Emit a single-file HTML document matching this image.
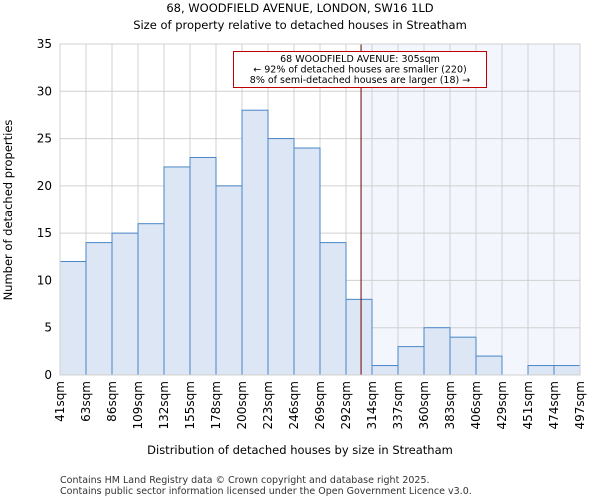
<!DOCTYPE html>
<html><head><meta charset="utf-8"><style>body{margin:0;background:#fff}svg{display:block;font-family:"DejaVu Sans","Liberation Sans",sans-serif}</style></head>
<body>
<svg id="chart" width="600" height="500" viewBox="0 0 600 500">
<text x="300" y="12" text-anchor="middle" font-size="11.5">68, WOODFIELD AVENUE, LONDON, SW16 1LD</text>
<text x="300" y="29" text-anchor="middle" font-size="11.5">Size of property relative to detached houses in Streatham</text>
<g id="plot"></g>
<text x="300" y="454" text-anchor="middle" font-size="11.5">Distribution of detached houses by size in Streatham</text>
<text transform="translate(12,210) rotate(-90)" text-anchor="middle" font-size="11.5">Number of detached properties</text>
<text x="60" y="483" font-size="9.5" fill="#333">Contains HM Land Registry data © Crown copyright and database right 2025.</text>
<text x="60" y="494" font-size="9.5" fill="#333">Contains public sector information licensed under the Open Government Licence v3.0.</text>
</svg>
<script>
const categories=["41sqm","63sqm","86sqm","109sqm","132sqm","155sqm","178sqm","200sqm","223sqm","246sqm","269sqm","292sqm","314sqm","337sqm","360sqm","383sqm","406sqm","429sqm","451sqm","474sqm","497sqm"];
const counts=[12,14,15,16,22,23,20,28,25,24,14,8,1,3,5,4,2,0,1,1];
const yTicks=[0,5,10,15,20,25,30,35];
const binStart=41, binWidth=22.8;
const markerValue=305;
const NS="http://www.w3.org/2000/svg";
const L=60,R=580,T=44,B=375,yMax=35;
const bw=(R-L)/counts.length;
const xs=v=>L+(v-binStart)/binWidth*bw;
const xi=i=>L+i*bw;
const ys=v=>B-v/yMax*(B-T);
const g=document.getElementById('plot');
function mk(t,a){const e=document.createElementNS(NS,t);for(const k in a)e.setAttribute(k,a[k]);g.appendChild(e);return e;}
const mx=xs(markerValue);
let e=mk('rect',{x:mx,y:T,width:R-mx,height:B-T,fill:'#f3f6fc'});


for(const t of yTicks){
 e=mk('line',{x1:L,x2:R,y1:ys(t),y2:ys(t),stroke:'#d0d0d0'});
 
 
 e=mk('text',{x:L-8,y:ys(t)+4,'text-anchor':'end','font-size':'12'});e.textContent=t;
 
 
}
for(let i=0;i<categories.length;i++){
 e=mk('line',{x1:xi(i),x2:xi(i),y1:T,y2:B,stroke:'#d0d0d0'});
 
 
 e=mk('text',{transform:`translate(${xi(i)+4},${B+6}) rotate(-90)`,'text-anchor':'end','font-size':'12'});e.textContent=categories[i];
 
 
}
counts.forEach((c,i)=>{
 if(c<=0)return;
 e=mk('rect',{x:xi(i),y:ys(c),width:bw,height:B-ys(c),fill:'#dce6f5',stroke:'#4a86c8','stroke-width':1});
 
 
});
e=mk('line',{x1:mx,x2:mx,y1:T,y2:B,stroke:'#6b0000','stroke-width':1});


e=mk('rect',{x:233.5,y:51.5,width:253,height:36,fill:'#fff',stroke:'#c00000'});


const lines=["68 WOODFIELD AVENUE: 305sqm","← 92% of detached houses are smaller (220)","8% of semi-detached houses are larger (18) →"];
lines.forEach((s,k)=>{e=mk('text',{x:360,y:62+k*10.5,'text-anchor':'middle','font-size':'9.5'});e.textContent=s;
 
 });
e=mk('rect',{x:L,y:T,width:R-L,height:B-T,fill:'none',stroke:'#d0d0d0'});


</script>
</body></html>
